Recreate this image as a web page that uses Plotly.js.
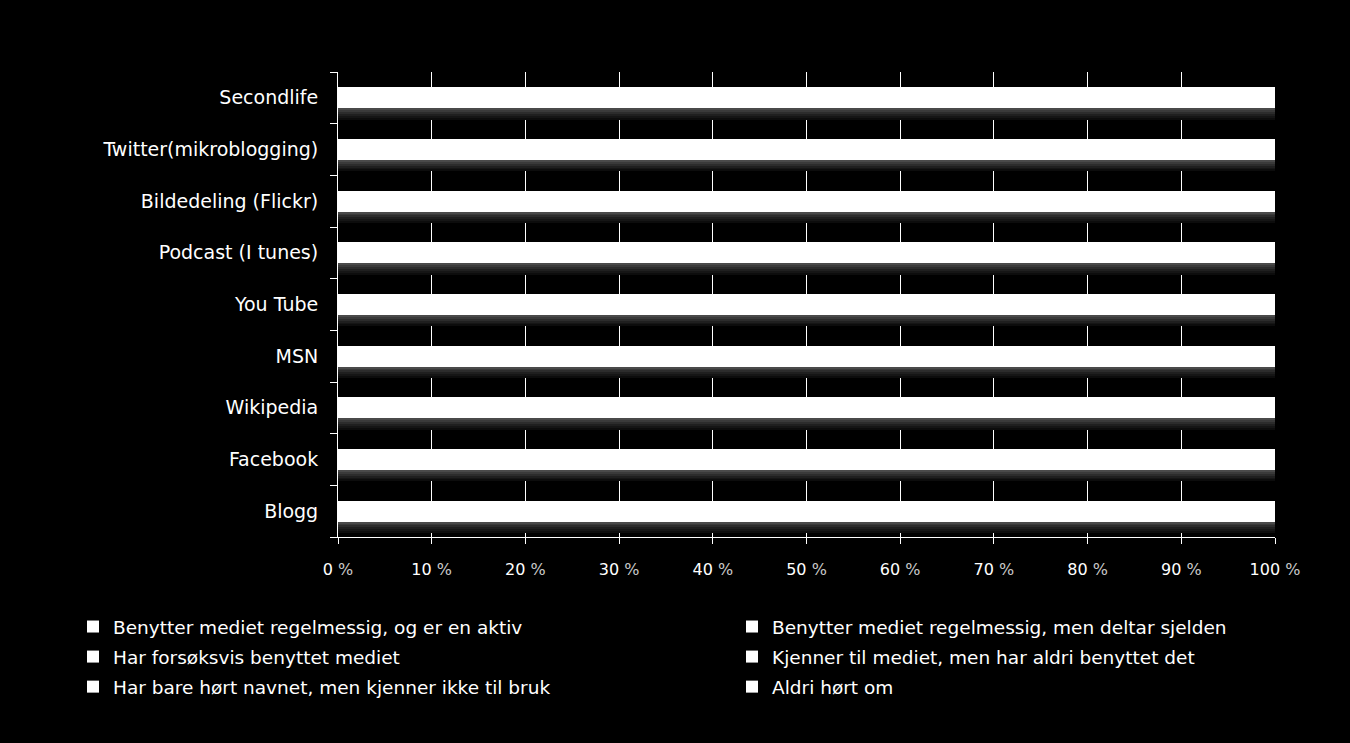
<!DOCTYPE html>
<html>
<head>
<meta charset="utf-8">
<script src="https://cdn.plot.ly/plotly-3.0.1.min.js"></script>
<style>html,body{margin:0;padding:0;background:#000;}#chart{width:1350px;height:743px;}</style>
</head>
<body>
<div id="chart"></div>
<script>
// Categories (bottom to top)
const categories = ['Blogg','Facebook','Wikipedia','MSN','You Tube','Podcast (I tunes)','Bildedeling (Flickr)','Twitter(mikroblogging)','Secondlife'];

// Series names (legend)
const seriesNames = [
  'Benytter mediet regelmessig, og er en aktiv',
  'Benytter mediet regelmessig, men deltar sjelden',
  'Har forsøksvis benyttet mediet',
  'Kjenner til mediet, men har aldri benyttet det',
  'Har bare hørt navnet, men kjenner ikke til bruk',
  'Aldri hørt om'
];

// Series values (percent, per category, bottom to top) - estimated; all segments are white in the picture
const aktiv      = [10, 35, 15, 30, 15,  5,  5,  2,  1];
const sjelden    = [20, 25, 45, 25, 40, 10, 10,  3,  2];
const forsoksvis = [25, 15, 15, 15, 20, 15, 15,  8,  5];
const kjenner    = [30, 15, 20, 20, 20, 35, 30, 20, 15];
const bareHort   = [10,  8,  4,  8,  4, 25, 25, 37, 37];
const aldri      = [ 5,  2,  1,  2,  1, 10, 15, 30, 40];

// X tick labels
const xTickVals = [0,10,20,30,40,50,60,70,80,90,100];
const xTickText = xTickVals.map(v => v + ' <span style="color:#c8c8c8">%</span>');

const seriesValues = [aktiv, sjelden, forsoksvis, kjenner, bareHort, aldri];
const legendFor = ['legend','legend2','legend','legend2','legend','legend2'];

const FONT = 'DejaVu Sans, sans-serif';
const traces = seriesValues.map((vals, i) => ({
  type: 'bar',
  orientation: 'h',
  name: seriesNames[i],
  y: categories,
  x: vals,
  width: 0.41,
  marker: {color: '#ffffff', line: {width: 0}},
  legend: legendFor[i],
  legendgroup: 'g' + i,
  hoverinfo: 'x+y+name'
}));

// soft shadow under each bar (gradient imitation), length = category total
const totals = categories.map((c, j) => seriesValues.reduce((s, arr) => s + arr[j], 0));
const shadowShades = ['#4a4a4a','#3a3a3a','#2c2c2c','#1f1f1f','#151515','#0c0c0c'];
shadowShades.forEach((col, k) => {
  traces.push({
    type: 'bar',
    orientation: 'h',
    y: categories,
    x: totals,
    base: 0,
    width: 0.036,
    offset: -0.205 - 0.036 * (k + 1),
    marker: {color: col, line: {width: 0}},
    showlegend: false,
    hoverinfo: 'skip'
  });
});

const PW = 937, PH = 465, L = 338, B = 537;
const layout = {
  width: 1350,
  height: 743,
  paper_bgcolor: '#000000',
  plot_bgcolor: '#000000',
  barmode: 'stack',
  margin: {l: 338, r: 75, t: 72, b: 206},
  font: {family: FONT, color: '#ffffff', size: 17},
  xaxis: {
    range: [0, 100],
    tickvals: xTickVals,
    ticktext: xTickText,
    tickangle: 0,
    automargin: false,
    ticks: 'outside',
    ticklen: 6,
    tickcolor: '#ffffff',
    tickwidth: 1,
    ticklabelstandoff: 12,
    showgrid: true,
    gridcolor: '#ffffff',
    gridwidth: 1,
    showline: true,
    linecolor: '#ffffff',
    linewidth: 1,
    zeroline: false,
    tickfont: {family: FONT, size: 16, color: '#ffffff'},
    fixedrange: true
  },
  yaxis: {
    type: 'category',
    categoryorder: 'array',
    categoryarray: categories,
    automargin: false,
    tickson: 'boundaries',
    ticks: 'outside',
    ticklen: 7,
    tickcolor: '#ffffff',
    tickwidth: 1,
    showgrid: false,
    showline: true,
    linecolor: '#ffffff',
    linewidth: 1,
    zeroline: false,
    ticklabelstandoff: 15,
    tickfont: {family: FONT, size: 19, color: '#ffffff'},
    fixedrange: true
  },
  legend: {
    xref: 'paper', yref: 'paper',
    x: (73 - L) / PW, y: (B - 608) / PH,
    xanchor: 'left', yanchor: 'top',
    orientation: 'v',
    bgcolor: 'rgba(0,0,0,0)',
    font: {family: FONT, size: 18.5, color: '#ffffff'},
    tracegroupgap: 3,
    traceorder: 'grouped'
  },
  legend2: {
    xref: 'paper', yref: 'paper',
    x: (732 - L) / PW, y: (B - 608) / PH,
    xanchor: 'left', yanchor: 'top',
    orientation: 'v',
    bgcolor: 'rgba(0,0,0,0)',
    font: {family: FONT, size: 18.5, color: '#ffffff'},
    tracegroupgap: 3,
    traceorder: 'grouped'
  },
  showlegend: true
};

Plotly.newPlot('chart', traces, layout, {displayModeBar: false, staticPlot: true});
</script>
</body>
</html>
